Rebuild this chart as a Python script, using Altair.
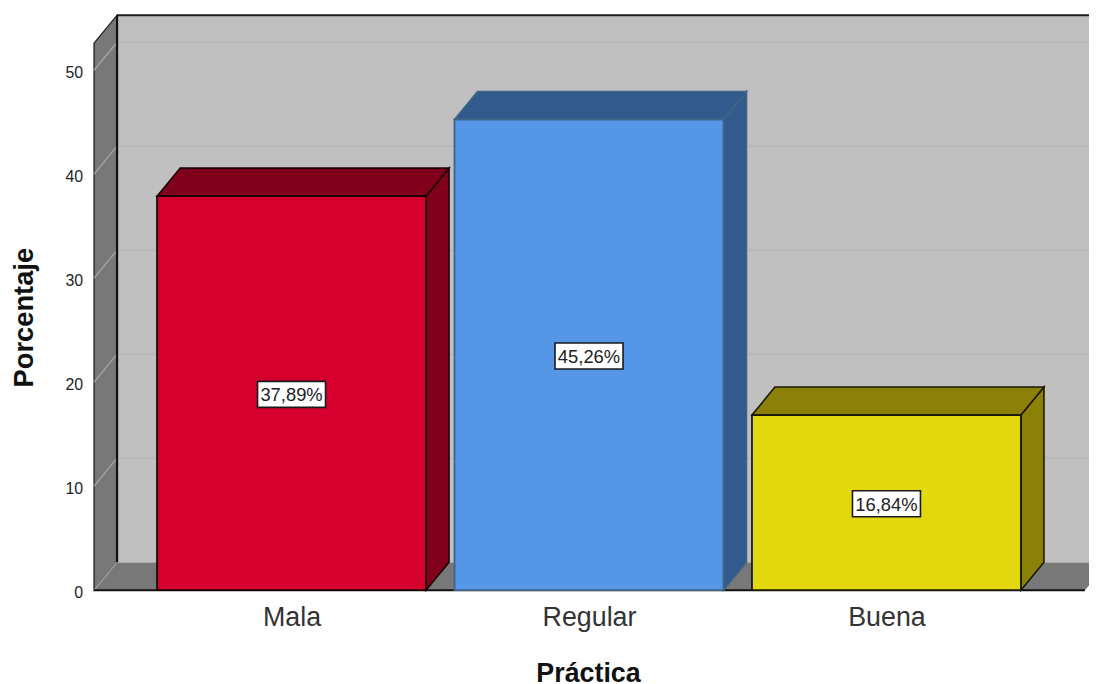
import altair as alt
import pandas as pd

# Chart values
categories = ["Mala", "Regular", "Buena"]
cat_pos = [0, 1, 2]
values = [37.89, 45.26, 16.84]
value_labels = ["37,89%", "45,26%", "16,84%"]
y_ticks = [0, 10, 20, 30, 40, 50]

# Colours per bar
front_colors = ["#d6002e", "#5596e6", "#e3d80e"]
shade_colors = ["#80001c", "#325a8c", "#8b8108"]
edge_colors = ["#1a0006", "#3f6488", "#1a1800"]

# Scale/perspective definition, in data units
X_MIN, X_MAX = -0.6639, 2.6672
Y_MAX = 52.6
DX = 23 / 297.5
DY = 28 / 10.4
HALF = 0.4521
BOX_W = 0.1143
BOX_H = 1.25

x_scale = alt.Scale(domain=[X_MIN, X_MAX], nice=False, zero=False)
y_scale = alt.Scale(domain=[0, Y_MAX], nice=False, zero=False)

label_expr = "datum.value == 0 ? 'Mala' : datum.value == 1 ? 'Regular' : 'Buena'"

x_axis = alt.Axis(
    values=cat_pos, labelExpr=label_expr, domain=False, ticks=False, grid=False,
    labelFont="Liberation Sans", labelFontSize=27, labelColor="#333333", labelPadding=15,
    title="Práctica", titleFont="Liberation Sans", titleFontSize=27, titleFontWeight="bold",
    titleColor="#111111", titleX=497.6, titleY=83.6, titleBaseline="middle", titleAlign="center",
)
y_axis = alt.Axis(
    values=y_ticks, domain=False, ticks=False, grid=False, labelOffset=2.5,
    labelFont="Liberation Sans", labelFontSize=16, labelColor="#222222", labelPadding=11.5,
    title="Porcentaje", titleFont="Liberation Sans", titleFontSize=27.5, titleFontWeight="bold",
    titleColor="#111111", titleX=-70.5, titleY=276, titleBaseline="middle", titleAlign="center",
)
X = lambda f: alt.X(f, type="quantitative", scale=x_scale, axis=x_axis)
Y = lambda f: alt.Y(f, type="quantitative", scale=y_scale, axis=y_axis)

# Room walls and floor
side_df = pd.DataFrame({"x": [X_MIN, X_MIN + DX], "y": [0, DY], "y2": [Y_MAX, Y_MAX + DY]})
side = alt.Chart(side_df).mark_area(orient="vertical", color="#787878", stroke="#1c1c1c", strokeWidth=1.3).encode(
    x=X("x"), y=Y("y"), y2="y2")

wall_df = pd.DataFrame({"x": [X_MIN + DX], "x2": [X_MAX + DX + 0.1], "y": [DY], "y2": [Y_MAX + DY]})
wall = alt.Chart(wall_df).mark_rect(color="#c0c0c0").encode(x=X("x"), x2="x2", y=Y("y"), y2="y2")

floor_df = pd.DataFrame({"y": [0, DY], "x": [X_MIN, X_MIN + DX], "x2": [X_MAX, X_MAX + DX]})
floor = alt.Chart(floor_df).mark_area(orient="horizontal", color="#787878").encode(
    y=Y("y"), x=X("x"), x2="x2")

grid_df = pd.DataFrame({"t": y_ticks})
grid_df["y"] = grid_df["t"] + DY
grid_df["x"] = X_MIN + DX
grid_df["x2"] = X_MAX + DX + 0.1
grid = alt.Chart(grid_df).mark_rule(color="#b5b5b5", strokeWidth=1.2).encode(x=X("x"), x2="x2", y=Y("y"))

side_grid_df = pd.DataFrame(
    [{"t": t, "x": X_MIN + i * DX, "y": t + i * DY} for t in y_ticks for i in (0, 1)])
side_grid = alt.Chart(side_grid_df).mark_line(color="#a6a6a6", strokeWidth=1.3).encode(
    x=X("x"), y=Y("y"), detail="t:N")

top_edge = alt.Chart(pd.DataFrame({"x": [X_MIN + DX], "x2": [X_MAX + DX + 0.1], "y": [Y_MAX + DY]})).mark_rule(
    color="#1c1c1c", strokeWidth=2).encode(x=X("x"), x2="x2", y=Y("y"))
back_edge = alt.Chart(pd.DataFrame({"x": [X_MIN + DX], "y": [DY], "y2": [Y_MAX + DY]})).mark_rule(
    color="#111111", strokeWidth=2.2).encode(x=X("x"), y=Y("y"), y2="y2")
base_edge = alt.Chart(pd.DataFrame({"x": [X_MIN], "x2": [X_MAX], "y": [0]})).mark_rule(
    color="#111111", strokeWidth=2).encode(x=X("x"), x2="x2", y=Y("y"))

# Bars: side faces, top faces, front faces
side_rows, top_rows, front_rows = [], [], []
for c, p, v, f, s, e in zip(categories, cat_pos, values, front_colors, shade_colors, edge_colors):
    r = p + HALF
    l = p - HALF
    side_rows += [{"c": c, "x": r, "y": 0, "y2": v, "s": s, "e": e},
                  {"c": c, "x": r + DX, "y": DY, "y2": v + DY, "s": s, "e": e}]
    top_rows += [{"c": c, "y": v, "x": l, "x2": r, "s": s, "e": e},
                 {"c": c, "y": v + DY, "x": l + DX, "x2": r + DX, "s": s, "e": e}]
    front_rows += [{"c": c, "x": l, "x2": r, "y": 0, "y2": v, "f": f, "e": e}]

bar_side = alt.Chart(pd.DataFrame(side_rows)).mark_area(orient="vertical", strokeWidth=1.6).encode(
    x=X("x"), y=Y("y"), y2="y2", detail="c:N",
    fill=alt.Fill("s:N", scale=None), stroke=alt.Stroke("e:N", scale=None))
bar_top = alt.Chart(pd.DataFrame(top_rows)).mark_area(orient="horizontal", strokeWidth=1.6).encode(
    y=Y("y"), x=X("x"), x2="x2", detail="c:N",
    fill=alt.Fill("s:N", scale=None), stroke=alt.Stroke("e:N", scale=None))
bar_front = alt.Chart(pd.DataFrame(front_rows)).mark_rect(strokeWidth=1.8).encode(
    x=X("x"), x2="x2", y=Y("y"), y2="y2",
    fill=alt.Fill("f:N", scale=None), stroke=alt.Stroke("e:N", scale=None))

# Value labels
label_df = pd.DataFrame({"x": cat_pos, "v": values, "t": value_labels})
label_df["mid"] = label_df["v"] / 2 - 0.12
label_df["x0"] = label_df["x"] - BOX_W
label_df["x1"] = label_df["x"] + BOX_W
label_df["y0"] = label_df["mid"] - BOX_H
label_df["y1"] = label_df["mid"] + BOX_H
boxes = alt.Chart(label_df).mark_rect(fill="white", stroke="#1a1a1a", strokeWidth=1.6).encode(
    x=X("x0"), x2="x1", y=Y("y0"), y2="y1")
texts = alt.Chart(label_df).mark_text(
    font="Liberation Sans", fontSize=18.5, color="#222222", baseline="middle", align="center", dy=1
).encode(x=X("x"), y=Y("mid"), text="t:N")

chart = alt.layer(
    side, wall, floor, grid, side_grid, top_edge, back_edge, base_edge,
    bar_side, bar_top, bar_front, boxes, texts,
).properties(
    width=998.2, height=551,
    padding={"left": 86.7, "top": 32.9, "right": 4.1, "bottom": 104},
    autosize=alt.AutoSizeParams(type="none"),
    background="white",
).configure_view(stroke=None)

chart.save("out.html", embed_options={"renderer": "svg", "actions": False})
